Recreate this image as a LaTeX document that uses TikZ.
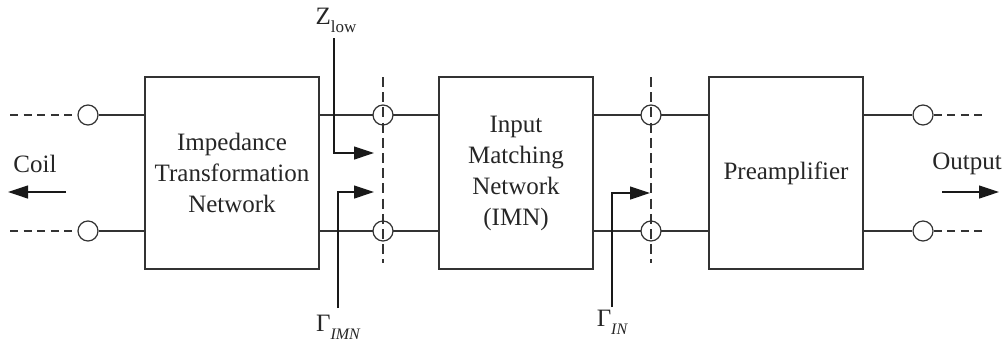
\documentclass[tikz,border=0pt]{standalone}
\usepackage{fontspec}
\setmainfont{Liberation Serif}
\usetikzlibrary{arrows.meta}
\begin{document}
\begin{tikzpicture}[x=0.5pt,y=-0.5pt,
  line width=0.7pt, draw=black!80,
  block/.style={draw=black!80, line width=0.8pt, minimum width=87pt, minimum height=96pt, inner sep=0pt, align=center,
    font=\rmfamily\fontsize{12.5}{15.5}\selectfont, text=black!85},
  blockB/.style={block, minimum width=77pt},
  term/.style={circle, draw=black!80, fill=white, minimum size=10pt, inner sep=0pt, line width=0.6pt},
  lbl/.style={font=\rmfamily\fontsize{12.5}{15}\selectfont, text=black!85, inner sep=1pt},
  wire/.style={draw=black!80, line width=0.7pt},
  ext/.style={draw=black!80, dash pattern=on 4pt off 2.8pt, line width=0.6pt},
  vdash/.style={draw=black!80, dash pattern=on 5pt off 2.6pt, line width=0.6pt},
  arr/.style={draw=black!90, -{Triangle[length=10pt,width=6.5pt]}, line width=0.6pt}]
\useasboundingbox (0,0) rectangle (1005,343);
% blocks
\node[block] (itn) at (232,173) {Impedance\\Transformation\\Network};
\node[blockB] (imn) at (516,173) {Input\\Matching\\Network\\(IMN)};
\node[blockB] (pre) at (786,173) {Preamplifier};
% terminals
\node[term] (cL1) at (88,115) {};
\node[term] (cL2) at (88,231) {};
\node[term] (cR1) at (923,115) {};
\node[term] (cR2) at (923,231) {};
% dashed reference planes
\coordinate (pA) at (383,77);
\coordinate (pAb) at (383,263);
\coordinate (pB) at (651,77);
\coordinate (pBb) at (651,263);
% wires
\draw[wire] (cL1) -- (cL1 -| itn.west);
\draw[wire] (cL2) -- (cL2 -| itn.west);
\draw[wire] (itn.east |- cL1) -- (imn.west |- cL1);
\draw[wire] (itn.east |- cL2) -- (imn.west |- cL2);
\draw[wire] (imn.east |- cL1) -- (pre.west |- cL1);
\draw[wire] (imn.east |- cL2) -- (pre.west |- cL2);
\draw[wire] (pre.east |- cR1) -- (cR1);
\draw[wire] (pre.east |- cR2) -- (cR2);
% inner terminals
\node[term] (cA1) at (383,115) {};
\node[term] (cA2) at (383,231) {};
\node[term] (cB1) at (651,115) {};
\node[term] (cB2) at (651,231) {};
\draw[vdash] (pA) -- (pAb);
\draw[vdash] (pB) -- (pBb);
% external dashed leads
\coordinate (eL1) at (10,115);
\coordinate (eL2) at (10,231);
\coordinate (eR1) at (985,115);
\coordinate (eR2) at (985,231);
\draw[ext] (eL1) -- (cL1);
\draw[ext] (eL2) -- (cL2);
\draw[ext] (cR1) -- (eR1);
\draw[ext] (cR2) -- (eR2);
% Coil / Output
\node[lbl] (coil) at (35,164) {Coil};
\coordinate (coilA) at (66,192);
\coordinate (coilB) at (8,192);
\draw[arr] (coilA) -- (coilB);
\node[lbl] (out) at (967,164) {Output};
\coordinate (outA) at (942,192);
\coordinate (outB) at (999,192);
\draw[arr] (outA) -- (outB);
% Z_low
\node[lbl, inner sep=0pt] (zl) at (336,20) {Z\raisebox{-4pt}{\fontsize{8.5}{9}\selectfont low}};
\coordinate (zlTop) at (334,38);
\coordinate (zlTip) at (374,153);
\draw[arr] (zlTop) |- (zlTip);
% Gamma IMN
\node[lbl, inner sep=0pt] (gimn) at (338,327) {Γ\raisebox{-4pt}{\fontsize{8}{9}\selectfont\itshape IMN}};
\coordinate (giBot) at (338,308);
\coordinate (giTip) at (374,192);
\draw[arr] (giBot) |- (giTip);
% Gamma IN
\node[lbl, inner sep=0pt] (gin) at (612,322) {Γ\raisebox{-4pt}{\fontsize{8}{9}\selectfont\itshape IN}};
\coordinate (gnBot) at (612,307);
\coordinate (gnTip) at (650,193);
\draw[arr] (gnBot) |- (gnTip);
\end{tikzpicture}
\end{document}
